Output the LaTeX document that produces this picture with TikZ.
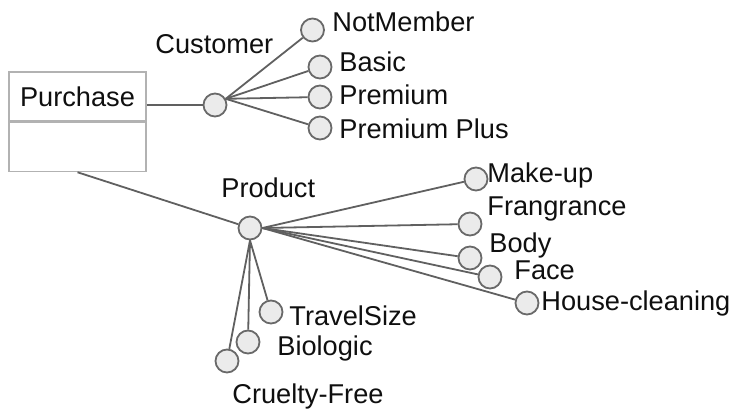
\documentclass[tikz,border=0pt]{standalone}
\usepackage{fontspec}
\setmainfont{Liberation Sans}
\definecolor{linegray}{RGB}{96,96,96}
\definecolor{circfill}{RGB}{235,235,235}
\definecolor{circdraw}{RGB}{105,105,105}
\definecolor{boxdraw}{RGB}{178,178,178}
\definecolor{txt}{RGB}{15,15,15}
\tikzset{
  val/.style={circle, draw=circdraw, fill=circfill, line width=0.9pt, minimum size=11.5pt, inner sep=0pt},
  lbl/.style={anchor=base west, inner sep=0pt, text=txt, font=\fontsize{13.6}{16}\selectfont},
  conn/.style={draw=linegray, line width=0.9pt},
  compart/.style={draw=boxdraw, line width=0.75pt, minimum width=68.5pt, minimum height=24.5pt, inner sep=0pt, text=txt, font=\fontsize{13.6}{16}\selectfont}
}
\begin{document}
\begin{tikzpicture}[x=0.5pt,y=-0.5pt]
\useasboundingbox (0,0) rectangle (734,408);
% class box
\node[compart] (purchase) at (77.5,96.5) {Purchase};
\node[compart, anchor=north] (pbot) at (purchase.south) {};
% value circles
\node[val] (cust) at (215,105) {};
\node[val] (nm) at (312.5,30) {};
\node[val] (basic) at (320,67) {};
\node[val] (prem) at (320,97) {};
\node[val] (pplus) at (320,128) {};
\node[val] (prod) at (250,228) {};
\node[val] (make) at (476,179) {};
\node[val] (frag) at (470,224) {};
\node[val] (body) at (470,258) {};
\node[val] (face) at (490,277) {};
\node[val] (house) at (527,303) {};
\node[val] (travel) at (271,312) {};
\node[val] (bio) at (248,342) {};
\node[val] (cruel) at (227,361) {};
% labels
\node[lbl] (lcust) at (155,53) {Customer};
\node[lbl] (lnm) at (332,31) {NotMember};
\node[lbl] (lbasic) at (339,71) {Basic};
\node[lbl] (lprem) at (339,104) {Premium};
\node[lbl] (lpplus) at (339,138) {Premium Plus};
\node[lbl] (lprod) at (221,197) {Product};
\node[lbl] (lmake) at (487,182) {Make-up};
\node[lbl] (lfrag) at (487,215) {Frangrance};
\node[lbl] (lbody) at (489,252) {Body};
\node[lbl] (lface) at (514,279) {Face};
\node[lbl] (lhouse) at (541,310) {House-cleaning};
\node[lbl] (ltravel) at (289,325) {TravelSize};
\node[lbl] (lbio) at (277,355) {Biologic};
\node[lbl] (lcruel) at (232,403) {Cruelty-Free};
% connectors
\draw[conn] (cust -| purchase.east) -- (cust);
\draw[conn] (cust.30) -- (nm);
\draw[conn] (cust.30) -- (basic);
\draw[conn] (cust.30) -- (prem);
\draw[conn] (cust.30) -- (pplus);
\draw[conn] (pbot.south) -- (prod);
\draw[conn] (prod.east) -- (make);
\draw[conn] (prod.east) -- (frag);
\draw[conn] (prod.east) -- (body);
\draw[conn] (prod.east) -- (face);
\draw[conn] (prod.east) -- (house);
\draw[conn] (prod.south) -- (travel);
\draw[conn] (prod.south) -- (bio);
\draw[conn] (prod.south) -- (cruel);
\end{tikzpicture}
\end{document}
